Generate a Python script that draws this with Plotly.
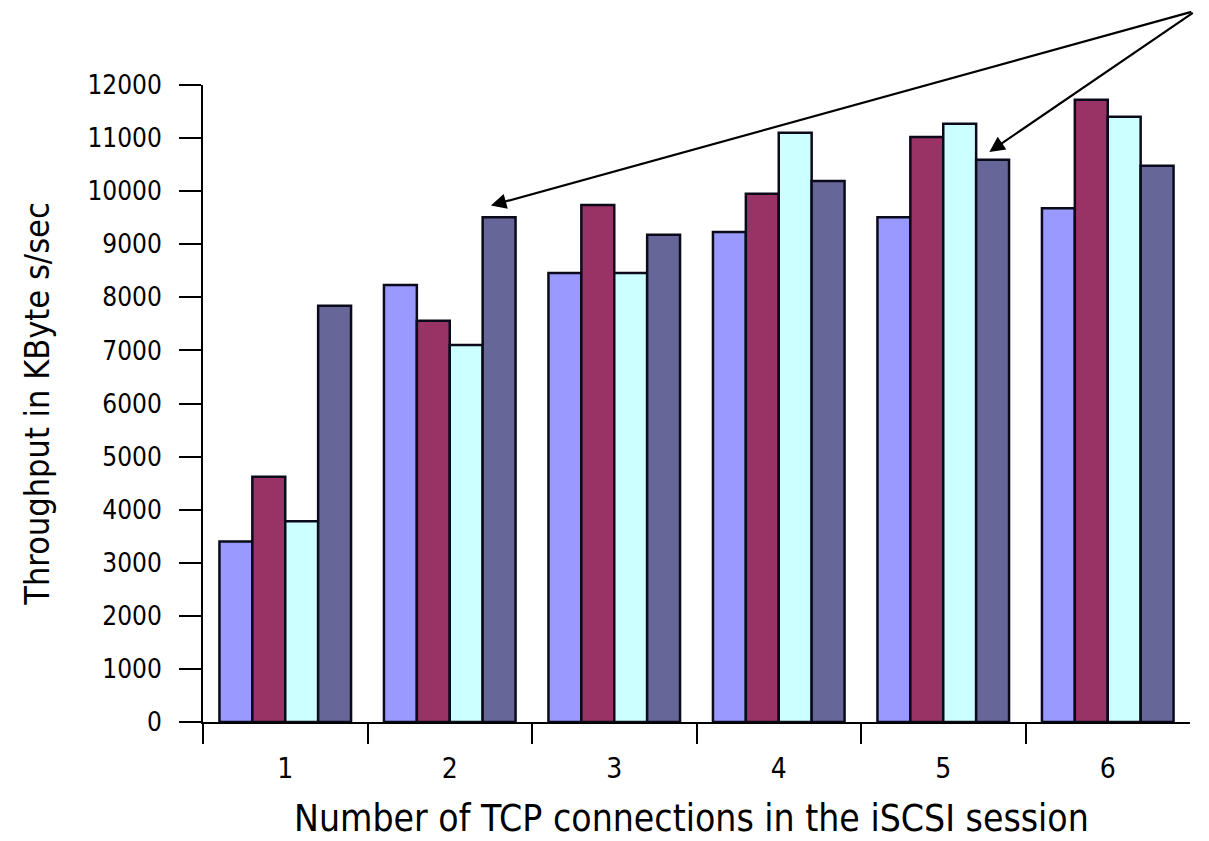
import plotly.graph_objects as go

# Number of TCP connections per iSCSI session
connections = ["1", "2", "3", "4", "5", "6"]

# Throughput (KBytes/sec) for the four measured configurations
series_a = [3400, 8230, 8460, 9230, 9510, 9680]
series_b = [4620, 7560, 9740, 9950, 11020, 11720]
series_c = [3780, 7100, 8460, 11100, 11270, 11400]
series_d = [7840, 9510, 9180, 10190, 10590, 10480]

series_names = ["Series 1", "Series 2", "Series 3", "Series 4"]
series_values = [series_a, series_b, series_c, series_d]
series_colors = ["#9999FF", "#993366", "#CCFFFF", "#666699"]

y_ticks = list(range(0, 12001, 1000))
y_tick_labels = [str(v) for v in y_ticks]

x_title = "Number of TCP connections in the iSCSI session"
y_title = "Throughput in KByte s/sec"

# numeric slot for each group, with separators between groups
slots = list(range(1, len(connections) + 1))
separators = [s - 0.5 for s in slots]

fig = go.Figure()
for name, vals, col in zip(series_names, series_values, series_colors):
    fig.add_trace(go.Bar(
        x=slots, y=vals, name=name,
        marker=dict(color=col, line=dict(color="#0a0a1a", width=2.5)),
    ))

narrow = "Liberation Sans Narrow, Arial Narrow, DejaVu Sans Condensed, sans-serif"

fig.update_layout(
    width=1209, height=841,
    margin=dict(l=203, r=19, t=85, b=119),
    paper_bgcolor="white", plot_bgcolor="white",
    barmode="group", bargap=0.2, bargroupgap=0,
    showlegend=False,
    xaxis=dict(
        range=[0.5, len(connections) + 0.5], automargin=False,
        tickvals=slots, ticktext=connections,
        showline=True, linecolor="black", linewidth=2,
        ticks="outside", ticklen=20, tickcolor="rgba(0,0,0,0)",
        minor=dict(tickvals=separators, ticks="outside", ticklen=20,
                   tickwidth=2, tickcolor="black", showgrid=False),
        ticklabelstandoff=0,
        tickfont=dict(family=narrow, size=28, color="black"),
        showgrid=False, zeroline=False,
    ),
    yaxis=dict(
        range=[0, 12000], automargin=False,
        tickvals=y_ticks, ticktext=y_tick_labels,
        showline=True, linecolor="black", linewidth=2,
        ticks="outside", ticklen=22, tickwidth=2, tickcolor="black",
        ticklabelstandoff=12,
        tickfont=dict(family="DejaVu Sans Condensed, DejaVu Sans, sans-serif",
                      size=26, color="black"),
        showgrid=False, zeroline=False,
        title=dict(text=y_title,
                   font=dict(family=narrow, size=34, color="black"), standoff=27),
    ),
)

# x-axis title placed below the category labels
fig.add_annotation(
    xref="paper", yref="paper", x=0.495, y=0, yshift=-96,
    xanchor="center", yanchor="middle", showarrow=False,
    text=x_title, font=dict(family=narrow, size=37, color="black"),
)

# Callout arrows from the top-right corner to two highlighted bars
arrow_common = dict(
    xref="x", yref="y", axref="pixel", ayref="pixel",
    text="", showarrow=True, arrowhead=2, arrowsize=1.4, arrowwidth=2.2,
    arrowcolor="black",
)
fig.add_annotation(x=slots[1] + 0.25, y=series_d[1] + 220, ax=702, ay=-194, **arrow_common)
fig.add_annotation(x=slots[4] + 0.28, y=series_d[4] + 150, ax=205, ay=-140, **arrow_common)

fig.write_html("out.html")
